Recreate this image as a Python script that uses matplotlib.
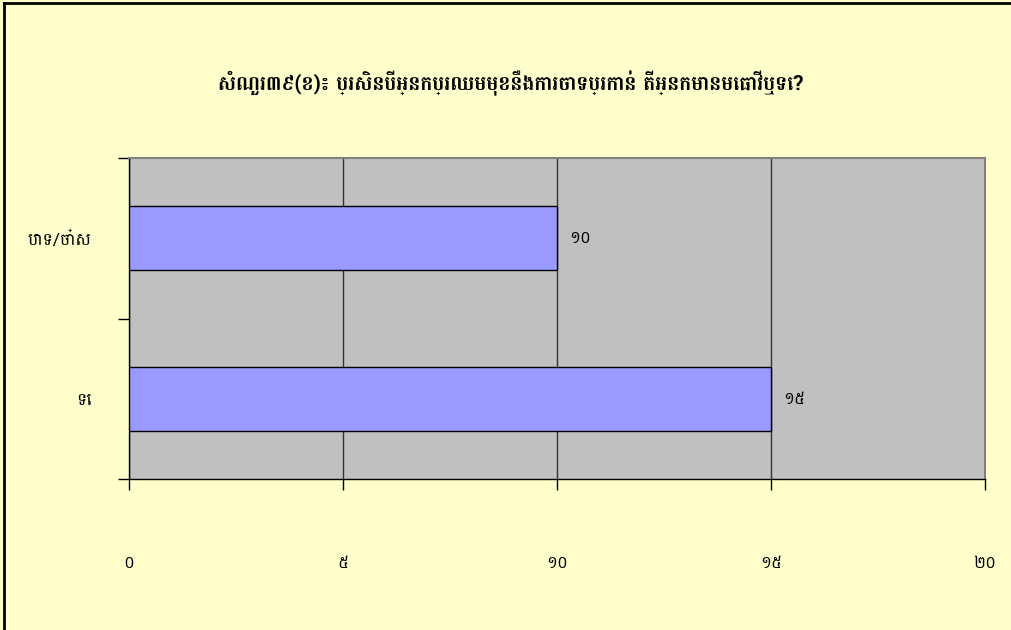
import matplotlib
matplotlib.use("Agg")
import matplotlib.pyplot as plt

title = "សំណួរ៣៩(ខ)៖ ប្រសិនបើអ្នកប្រឈមមុខនឹងការចោទប្រកាន់ តើអ្នកមានមេធាវីឬទេ?"
categories = ["បាទ/ចា៎ស", "ទេ"]
counts = [10, 15]
x_ticks = [0, 5, 10, 15, 20]

KHMER_DIGITS = "០១២៣៤៥៦៧៨៩"


def khmer_num(n):
    return "".join(KHMER_DIGITS[int(d)] for d in str(int(n)))


plt.rcParams["font.family"] = ["Battambang", "DejaVu Sans"]

bg = "#FFFFCC"
fig = plt.figure(figsize=(10.12, 6.3), dpi=100, facecolor=bg)
ax = fig.add_axes([129 / 1012, 1 - 479 / 630, 856 / 1012, 321 / 630])
ax.set_facecolor("#C0C0C0")

y = list(range(len(categories)))
bars = ax.barh(y, counts, height=0.4, color="#9999FF", edgecolor="black",
               linewidth=1, zorder=3)
ax.bar_label(bars, labels=[khmer_num(v) for v in counts], padding=9,
             fontsize=12)

ax.set_xlim(0, 20)
ax.set_ylim(1.5, -0.5)

ax.set_xticks(x_ticks)
ax.set_xticklabels([khmer_num(v) for v in x_ticks], fontsize=12)
ax.tick_params(axis="x", direction="out", length=8, width=1, pad=47)

ax.set_yticks(y)
ax.set_yticklabels(categories, fontsize=12.5)
ax.tick_params(axis="y", which="major", length=0, pad=27)
ax.set_yticks([-0.5, 0.5, 1.5], minor=True)
ax.tick_params(axis="y", which="minor", direction="out", length=8, width=1)

ax.grid(axis="x", color="#333333", linewidth=1, zorder=1)
for side in ("top", "right"):
    ax.spines[side].set_color("#808080")
    ax.spines[side].set_linewidth(1.5)
for side in ("left", "bottom"):
    ax.spines[side].set_color("black")
    ax.spines[side].set_linewidth(1)

fig.text(510 / 1012, 1 - 83 / 630, title, ha="center", va="center",
         fontsize=14.5, fontweight="bold")

# outer frame only shows on the top and left edges
fig.add_artist(plt.Line2D([4 / 1012, 4 / 1012], [0, 1 - 3 / 630],
                          color="black", linewidth=2, transform=fig.transFigure))
fig.add_artist(plt.Line2D([4 / 1012, 1], [1 - 3 / 630, 1 - 3 / 630],
                          color="black", linewidth=2, transform=fig.transFigure))

fig.savefig("out.png", dpi=100, facecolor=bg)
